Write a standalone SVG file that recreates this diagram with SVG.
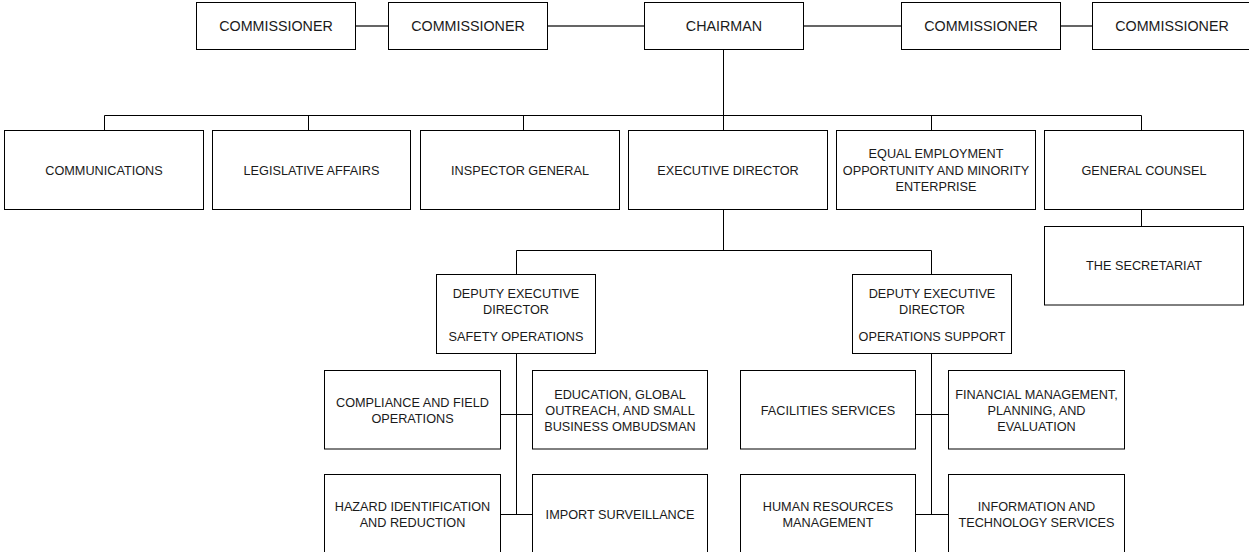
<svg xmlns="http://www.w3.org/2000/svg" width="1249" height="552" viewBox="0 0 1249 552">
<style>
.box{fill:#fff;stroke:#000;stroke-width:1}
.ln{fill:none;stroke:#000;stroke-width:1}
.tl{fill:none;stroke:#333;stroke-width:1.5}
text{font-family:"Liberation Sans",Arial,sans-serif;font-size:12.7px;fill:#1a1a1a;text-anchor:middle}
.big{font-size:14.3px}
</style>
<rect width="1249" height="552" fill="#fff"/>
<g id="connectors">
<path class="tl" d="M355.5 26H388.5M547.5 26H644.5M803.5 26H901.5M1060.5 26H1092.5"/>
<path class="ln" d="M723.5 49.5V115.5M104.5 115.5H1141.5M104.5 115.5V130.5M308.5 115.5V130.5M523.5 115.5V130.5M723.5 115.5V130.5M931.5 115.5V130.5M1141.5 115.5V130.5"/>
<path class="ln" d="M1141.5 209.5V226.5M723.5 209.5V250.5M516.5 250.5H931.5M516.5 250.5V274.5M931.5 250.5V274.5"/>
<path class="ln" d="M516.5 353.5V514.5M931.5 353.5V514.5M500.5 414.5H532.5M500.5 514.5H532.5M915.5 414.5H948.5M915.5 514.5H948.5"/>
</g>
<g id="n-comm1"><rect class="box" x="196.5" y="2.5" width="159" height="47"/><text class="big" x="276" y="30.8">COMMISSIONER</text></g>
<g id="n-comm2"><rect class="box" x="388.5" y="2.5" width="159" height="47"/><text class="big" x="468" y="30.8">COMMISSIONER</text></g>
<g id="n-chairman"><rect class="box" x="644.5" y="2.5" width="159" height="47"/><text class="big" x="724" y="30.8">CHAIRMAN</text></g>
<g id="n-comm3"><rect class="box" x="901.5" y="2.5" width="159" height="47"/><text class="big" x="981" y="30.8">COMMISSIONER</text></g>
<g id="n-comm4"><rect class="box" x="1092.5" y="2.5" width="159" height="47"/><text class="big" x="1172" y="30.8">COMMISSIONER</text></g>
<g id="n-communications"><rect class="box" x="4.5" y="130.5" width="199" height="79"/><text x="104" y="174.5">COMMUNICATIONS</text></g>
<g id="n-legislative"><rect class="box" x="212.5" y="130.5" width="198" height="79"/><text x="311.5" y="174.5">LEGISLATIVE AFFAIRS</text></g>
<g id="n-inspector"><rect class="box" x="420.5" y="130.5" width="199" height="79"/><text x="520" y="174.5">INSPECTOR GENERAL</text></g>
<g id="n-executive"><rect class="box" x="628.5" y="130.5" width="199" height="79"/><text x="728" y="174.5">EXECUTIVE DIRECTOR</text></g>
<g id="n-eeo"><rect class="box" x="836.5" y="130.5" width="199" height="79"/><text x="936" y="158">EQUAL EMPLOYMENT</text><text x="936" y="174.5">OPPORTUNITY AND MINORITY</text><text x="936" y="191">ENTERPRISE</text></g>
<g id="n-counsel"><rect class="box" x="1044.5" y="130.5" width="199" height="79"/><text x="1144" y="174.5">GENERAL COUNSEL</text></g>
<g id="n-secretariat"><rect class="box" x="1044.5" y="226.5" width="199" height="78.5"/><text x="1144" y="270.2">THE SECRETARIAT</text></g>
<g id="n-dep-safety"><rect class="box" x="436.5" y="274.5" width="159" height="79"/><text x="516" y="297.8">DEPUTY EXECUTIVE</text><text x="516" y="313.8">DIRECTOR</text><text x="516" y="341.2">SAFETY OPERATIONS</text></g>
<g id="n-dep-support"><rect class="box" x="852.5" y="274.5" width="159" height="79"/><text x="932" y="297.8">DEPUTY EXECUTIVE</text><text x="932" y="313.8">DIRECTOR</text><text x="932" y="341.2">OPERATIONS SUPPORT</text></g>
<g id="n-compliance"><rect class="box" x="324.5" y="370.5" width="176" height="78.5"/><text x="412.5" y="407.2">COMPLIANCE AND FIELD</text><text x="412.5" y="422.8">OPERATIONS</text></g>
<g id="n-education"><rect class="box" x="532.5" y="370.5" width="175" height="78.5"/><text x="620" y="398.8">EDUCATION, GLOBAL</text><text x="620" y="415.2">OUTREACH, AND SMALL</text><text x="620" y="431.2">BUSINESS OMBUDSMAN</text></g>
<g id="n-hazard"><rect class="box" x="324.5" y="474.5" width="176" height="80"/><text x="412.5" y="511.2">HAZARD IDENTIFICATION</text><text x="412.5" y="527.2">AND REDUCTION</text></g>
<g id="n-import"><rect class="box" x="532.5" y="474.5" width="175" height="80"/><text x="620" y="518.5">IMPORT SURVEILLANCE</text></g>
<g id="n-facilities"><rect class="box" x="740.5" y="370.5" width="175" height="78.5"/><text x="828" y="414.5">FACILITIES SERVICES</text></g>
<g id="n-financial"><rect class="box" x="948.5" y="370.5" width="176" height="78.5"/><text x="1036.5" y="398.8">FINANCIAL MANAGEMENT,</text><text x="1036.5" y="415.2">PLANNING, AND</text><text x="1036.5" y="431.2">EVALUATION</text></g>
<g id="n-hr"><rect class="box" x="740.5" y="474.5" width="175" height="80"/><text x="828" y="511.2">HUMAN RESOURCES</text><text x="828" y="527.2">MANAGEMENT</text></g>
<g id="n-it"><rect class="box" x="948.5" y="474.5" width="176" height="80"/><text x="1036.5" y="511.2">INFORMATION AND</text><text x="1036.5" y="527.2">TECHNOLOGY SERVICES</text></g>
</svg>
